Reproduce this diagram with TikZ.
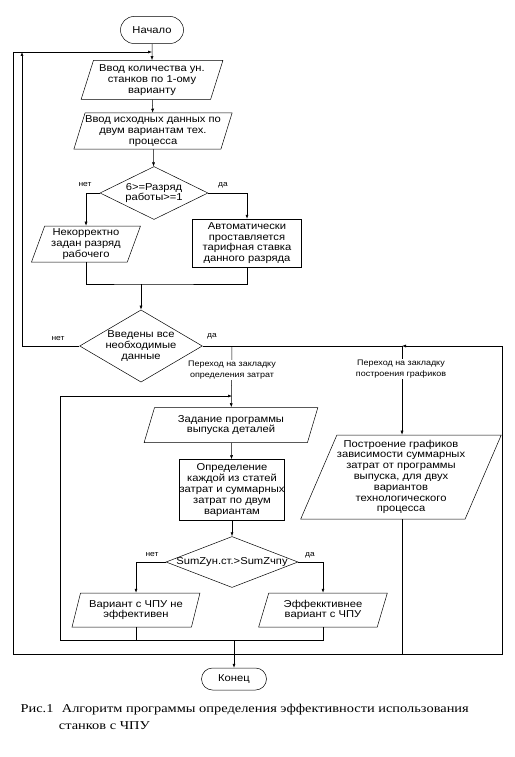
\documentclass[tikz,border=0pt]{standalone}
\usepackage{fontspec}
\setmainfont{Liberation Serif}[FakeStretch=1.2]
\newfontfamily\chartfont{Liberation Sans}[FakeStretch=1.12]
\usetikzlibrary{arrows.meta, shapes.geometric, shapes.misc, positioning}

\begin{document}
\begin{tikzpicture}[x=1pt, y=-1pt, line width=0.5pt, >={Latex[length=4pt,width=3pt]},
  font=\chartfont\fontsize{10}{10.8}\selectfont,
  term/.style={rounded rectangle, draw, inner sep=0pt},
  io/.style={trapezium, trapezium left angle=70, trapezium right angle=110, trapezium stretches=true, draw, align=center, inner sep=0pt},
  proc/.style={rectangle, draw, align=center, inner sep=0pt},
  decision/.style={diamond, draw, align=center, inner sep=0pt},
  note/.style={font=\chartfont\fontsize{8}{11}\selectfont, align=center, fill=white, inner sep=1pt},
  yesno/.style={font=\chartfont\fontsize{7.5}{9}\selectfont, inner sep=1pt}]

  \useasboundingbox (0,0) rectangle (514,757);

  % main column
  \node[term, minimum width=63, minimum height=27] (start) at (152,30) {Начало};
  \node[io, minimum width=142, minimum height=39] (in1) at (152,80) {Ввод количества ун.\\станков по 1-ому\\варианту};
  \node[io, minimum width=150, minimum height=36] (in2) at (153,131) {Ввод исходных данных по\\двум вариантам тех.\\процесса};
  \node[decision, aspect=2.04, minimum width=108, minimum height=53] (dec1) at (154,193) {6>=Разряд\\работы>=1};
  \node[io, minimum width=110, minimum height=36] (bad) at (86,244) {Некорректно\\задан разряд\\рабочего};
  \node[proc, minimum width=109, minimum height=48] (auto) at (247,243) {Автоматически\\проставляется\\тарифная ставка\\данного разряда};
  \node[decision, aspect=1.7, minimum width=117, minimum height=69] (dec2) at (141,346) {Введены все\\необходимые\\данные};

  % cost tab
  \node[io, minimum width=174, minimum height=35] (prog) at (231,425) {Задание программы\\выпуска деталей};
  \node[proc, minimum width=105, minimum height=61] (calc) at (232,490) {Определение\\каждой из статей\\затрат и суммарных\\затрат по двум\\вариантам};
  \node[decision, aspect=2.59, inner xsep=-2pt, minimum width=132, minimum height=51] (dec3) at (232,562) {SumZун.ст.>SumZчпу};
  \node[io, minimum width=128, minimum height=34] (noeff) at (136,610) {Вариант с ЧПУ не\\эффективен};
  \node[io, minimum width=129, minimum height=34] (eff) at (323,610) {Эффекктивнее\\вариант с ЧПУ};
  \node[term, minimum width=65, minimum height=22] (finish) at (234,679) {Конец};

  % graph tab
  \node[io, trapezium left angle=64, trapezium right angle=116, minimum width=198, minimum height=84] (graph) at (401,477) {Построение графиков\\зависимости суммарных\\затрат от программы\\выпуска, для двух\\вариантов\\технологического\\процесса};

  \coordinate (loopTL) at (13,52);
  \coordinate (joinA) at (152,52);
  \coordinate (loopIn) at (22,52);
  \coordinate (loopBL) at (13,654);
  \coordinate (loopBR) at (502,654);
  \coordinate (loopTR) at (502,346);
  \coordinate (costTop) at (232,346);
  \coordinate (graphTop) at (402,346);
  \coordinate (mergeY) at (141,284);
  \coordinate (inTL) at (60,396);
  \coordinate (inJoin) at (232,396);
  \coordinate (inBL) at (60,640);

  \draw[->] (start) -- (in1);
  \draw[->] (loopTL) -- (joinA);
  \draw[->] (in1) -- (in2);
  \draw[->] (in2) -- (dec1);
  \draw[->] (dec1.west) -| (bad.north);
  \draw[->] (dec1.east) -| (auto.north);
  \draw (bad.south) |- (mergeY) -| (auto.south);
  \draw[->] (mergeY) -- (dec2);
  \draw[->] (dec2.west) -| (loopIn);
  \draw (loopTL) -- (loopBL) -- (loopBR) -- (loopTR);
  \draw (dec2.east) -- (graphTop);
  \draw[->] (loopTR) -- (graphTop);
  \draw[->] (costTop) -- (prog);
  \draw[->] (graphTop) -- (graph.north -| graphTop);
  \draw (graph.south -| graphTop) -- (graphTop |- loopBL);

  \draw[->] (inTL) -- (inJoin);
  \draw[->] (prog) -- (calc);
  \draw[->] (calc) -- (dec3);
  \draw[->] (dec3.west) -| (noeff.north);
  \draw[->] (dec3.east) -| (eff.north);
  \draw (inTL) -- (inBL) -| (eff.south);
  \draw (noeff.south) -- (noeff.south |- inBL);
  \draw[->] (finish |- inBL) -- (finish);

  \node[note] (costNote) at (232,370) {Переход на закладку\\определения затрат};
  \node[note] (graphNote) at (401,369) {Переход на закладку\\построения графиков};

  \node[yesno] (no1) at (85,185) {нет};
  \node[yesno] (yes1) at (223,185) {да};
  \node[yesno] (no2) at (58,339) {нет};
  \node[yesno] (yes2) at (212,336) {да};
  \node[yesno] (no3) at (152,555) {нет};
  \node[yesno] (yes3) at (310,555) {да};

  \node[font=\rmfamily\fontsize{12}{16.7}\selectfont, anchor=base west, align=left] (caption) at (17,729) {Рис.1\hspace{0.7em}Алгоритм программы определения эффективности использования\\\hspace{3.2em}станков с ЧПУ};
\end{tikzpicture}
\end{document}
